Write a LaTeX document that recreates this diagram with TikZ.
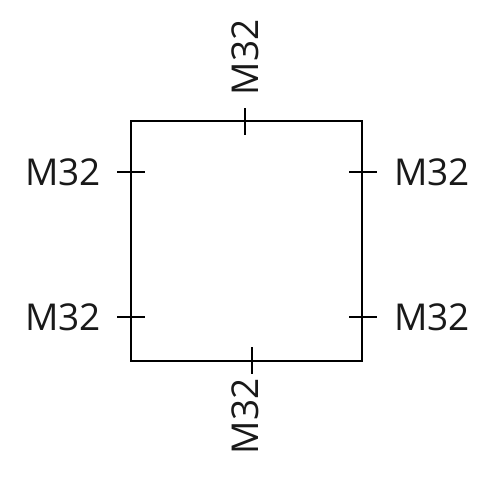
\documentclass[tikz,border=0pt]{standalone}
\usepackage{fontspec}
\setmainfont{Open Sans}
\begin{document}
\begin{tikzpicture}[x=1pt,y=-1pt,line width=2pt,
  lbl/.style={inner sep=0pt,font=\fontsize{37}{40}\selectfont,text=black!90}]
\useasboundingbox (0,0) rectangle (497,480);
\draw (131,121) rectangle (362,361);
\coordinate (t1) at (245,108); \coordinate (t2) at (245,135);
\coordinate (b1) at (252,347); \coordinate (b2) at (252,374);
\coordinate (l1) at (117,172); \coordinate (l2) at (145,172);
\coordinate (l3) at (117,317); \coordinate (l4) at (145,317);
\coordinate (r1) at (349,172); \coordinate (r2) at (377,172);
\coordinate (r3) at (349,317); \coordinate (r4) at (377,317);
\draw (t1) -- (t2); \draw (b1) -- (b2);
\draw (l1) -- (l2); \draw (l3) -- (l4);
\draw (r1) -- (r2); \draw (r3) -- (r4);
\node[lbl,anchor=base east] (L1) at (102,185) {M32};
\node[lbl,anchor=base east] (L2) at (102,330) {M32};
\node[lbl,anchor=base west] (R1) at (393,185) {M32};
\node[lbl,anchor=base west] (R2) at (393,330) {M32};
\node[lbl,anchor=base west,rotate=90] (T) at (258,96) {M32};
\node[lbl,anchor=base west,rotate=90] (B) at (258,455) {M32};
\end{tikzpicture}
\end{document}
